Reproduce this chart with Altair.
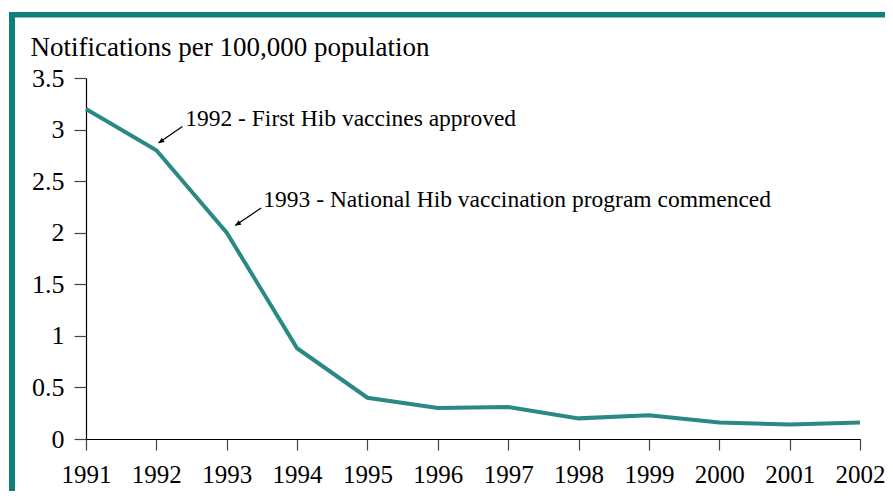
import altair as alt
import pandas as pd

years = [1991, 1992, 1993, 1994, 1995, 1996, 1997, 1998, 1999, 2000, 2001, 2002]
rates = [3.2, 2.8, 2.0, 0.88, 0.4, 0.3, 0.31, 0.2, 0.23, 0.16, 0.14, 0.16]
y_ticks = [0, 0.5, 1, 1.5, 2, 2.5, 3, 3.5]
y_title = "Notifications per 100,000 population"

notes = ["1992 - First Hib vaccines approved",
         "1993 - National Hib vaccination program commenced"]
note_x = [1992.41, 1993.52]
note_y = [3.10, 2.32]
arrow_tail_x = [1992.37, 1993.49]
arrow_tail_y = [3.03, 2.24]
arrow_head_x = [1992.03, 1993.12]
arrow_head_y = [2.87, 2.07]
arrow_angle = [236, 238]

FONT = "Liberation Serif"
TEAL_LINE = "#2a8985"
TEAL_BORDER = "#0e7f7a"

df = pd.DataFrame({"year": years, "rate": rates})
notes_df = pd.DataFrame({"text": notes, "x": note_x, "y": note_y})
arrows_df = pd.DataFrame({"x": arrow_tail_x, "y": arrow_tail_y,
                          "x2": arrow_head_x, "y2": arrow_head_y,
                          "angle": arrow_angle})

xs = alt.Scale(domain=[1991, 2002], nice=False, zero=False)
ys = alt.Scale(domain=[0, 3.5], nice=False)

line = alt.Chart(df).mark_line(color=TEAL_LINE, strokeWidth=4).encode(
    x=alt.X("year:Q", scale=xs, axis=alt.Axis(
        values=years, format="d", title=None, tickSize=11, labelPadding=12,
        labelFontSize=25, grid=False, labelOverlap=False, labelFlush=False)),
    y=alt.Y("rate:Q", scale=ys, axis=alt.Axis(
        values=y_ticks, format="~g", title=y_title, tickSize=12, labelPadding=10,
        labelFontSize=26, grid=False, labelOverlap=False, labelFlush=False,
        titleAngle=0, titleAlign="left",
        titleBaseline="alphabetic", titleX=-56, titleY=-23,
        titleFontSize=27, titleFontWeight="normal")),
)

shafts = alt.Chart(arrows_df).mark_rule(color="black", strokeWidth=1.3).encode(
    x=alt.X("x:Q", scale=xs), y=alt.Y("y:Q", scale=ys),
    x2="x2:Q", y2="y2:Q")

heads = alt.Chart(arrows_df).mark_point(
    shape="M0,0 L-0.45,1 L0.45,1 Z", filled=True, color="black", size=130, opacity=1
).encode(x=alt.X("x2:Q", scale=xs), y=alt.Y("y2:Q", scale=ys), angle=alt.Angle("angle:Q", scale=None))

texts = alt.Chart(notes_df).mark_text(
    align="left", baseline="middle", font=FONT, fontSize=23.5, color="black"
).encode(x=alt.X("x:Q", scale=xs), y=alt.Y("y:Q", scale=ys), text="text:N")

one = pd.DataFrame({"a": [0]})
border_top = alt.Chart(one).mark_rule(color=TEAL_BORDER, strokeWidth=5.5, strokeCap="butt").encode(
    x=alt.value(-77), x2=alt.value(830), y=alt.value(-63.3))
border_left = alt.Chart(one).mark_rule(color=TEAL_BORDER, strokeWidth=6, strokeCap="butt").encode(
    x=alt.value(-74), y=alt.value(-66), y2=alt.value(420))

chart = alt.layer(border_top, border_left, line, shafts, heads, texts).properties(
    width=774, height=361,
    autosize=alt.AutoSizeParams(type="none"),
    padding={"left": 78, "top": 70, "right": 25, "bottom": 52},
    background="white",
).configure_view(stroke=None).configure_axis(
    labelFont=FONT, titleFont=FONT, labelColor="black", titleColor="black",
    domainColor="black", domainWidth=1.2, tickColor="#444", tickWidth=1.2,
)

chart.save("out.html", embed_options={"renderer": "svg", "actions": False})
